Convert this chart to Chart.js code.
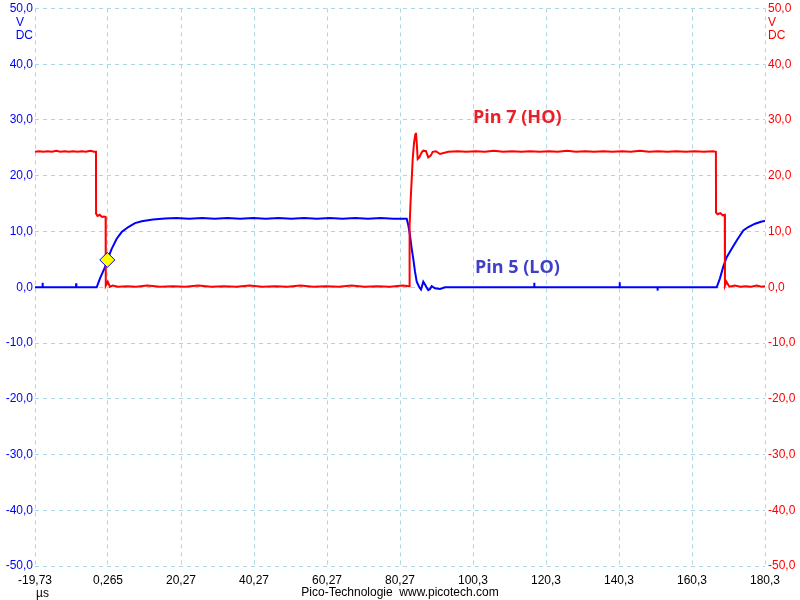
<!DOCTYPE html>
<html>
<head>
<meta charset="utf-8">
<script src="https://cdn.jsdelivr.net/npm/chart.js@4"></script>
<style>
  body { margin: 0; background: #fff; }
  canvas { display: block; }
</style>
</head>
<body>
<canvas id="scope" width="800" height="600"></canvas>
<script>
// Zeitachse in µs, Spannung in V
const xTickValues = [-19.73, 0.265, 20.27, 40.27, 60.27, 80.27, 100.27, 120.27, 140.27, 160.27, 180.27]
const xTickLabels = ["-19,73", "0,265", "20,27", "40,27", "60,27", "80,27", "100,3", "120,3", "140,3", "160,3", "180,3"]

// Pin 7 (HO), rot
const redTime = [
  -19.73, -18.6, -17.4, -16.3, -15.1, -13.9, -12.8, -11.6, -10.4, -9.3, -8.1, -6.9, -5.8, -4.6, -3.5, -3.02,
  -3.0, -2.6, -2.0, -1.4, -0.8, -0.38,
  -0.34, 0.2, 0.8, 1.6, 3.0, 5.5, 8.0, 11.0, 14.5, 18.0, 21.5, 25.0, 28.5, 32.0, 35.5, 39.0, 42.5, 46.0, 49.5, 53.0, 56.5, 60.0, 63.5, 67.0, 70.5, 74.0, 77.5, 81.0, 82.8,
  82.9, 83.2, 83.48, 83.75, 84.11, 84.46, 84.65, 84.85, 85.12, 85.56, 86.22, 86.65, 87.39, 88.02, 88.68, 89.23, 90.13, 91.23,
  93.5, 96.0, 98.5, 101.0, 103.5, 106.0, 108.5, 111.0, 113.5, 116.0, 118.5, 121.0, 123.5, 126.0, 128.5, 131.0, 133.5, 136.0, 138.5, 141.0, 143.5, 146.0, 148.5, 151.0, 153.5, 156.0, 158.5, 161.0, 163.5, 166.0, 166.82,
  166.85, 167.3, 168.0, 168.7, 169.25,
  169.3, 169.7, 170.5, 172.0, 173.5, 175.0, 176.5, 178.0, 179.3, 180.27
]
const redVolt = [
  24.3, 24.4, 24.3, 24.4, 24.3, 24.5, 24.3, 24.4, 24.3, 24.4, 24.3, 24.4, 24.3, 24.5, 24.3, 24.3,
  13.2, 12.8, 13.0, 12.6, 12.7, 12.6,
  0.3, 1.0, 0.1, 0.3, 0.1, 0.2, 0.1, 0.3, 0.1, 0.2, 0.1, 0.3, 0.1, 0.2, 0.1, 0.3, 0.1, 0.2, 0.1, 0.3, 0.1, 0.2, 0.1, 0.3, 0.1, 0.2, 0.1, 0.3, 0.2,
  11.1, 15.8, 19.4, 23.0, 25.9, 27.4, 27.7, 25.9, 23.0, 23.3, 24.2, 24.5, 24.4, 23.3, 23.6, 24.3, 24.4, 23.9,
  24.3, 24.4, 24.3, 24.4, 24.3, 24.5, 24.3, 24.4, 24.3, 24.4, 24.3, 24.4, 24.3, 24.5, 24.3, 24.4, 24.3, 24.4, 24.3, 24.4, 24.3, 24.5, 24.3, 24.4, 24.3, 24.4, 24.3, 24.4, 24.3, 24.4, 24.3,
  13.4, 13.1, 13.3, 12.9, 13.0,
  0.3, 1.0, 0.1, 0.3, 0.1, 0.2, 0.1, 0.3, 0.1, 0.2
]

// Pin 5 (LO), blau
const blueTime = [
  -19.73, -17.7, -17.65, -17.6, -10.0, -8.5, -8.45, -8.4, -5.0, -2.83,
  -1.92, -0.55, 0.08, 1.28, 2.65, 4.02, 5.83, 7.67, 9.5, 12.6, 15.9,
  19.0, 22.5, 26.0, 29.5, 33.0, 36.5, 40.0, 43.5, 47.0, 50.5, 54.0, 57.5, 61.0, 64.5, 68.0, 71.5, 75.0, 78.5, 82.11,
  82.55, 83.01, 83.48, 83.91, 84.38, 84.85, 85.56, 86.02, 86.65, 87.12, 87.53, 88.02, 88.49, 88.95, 89.86, 91.23, 92.6,
  100.0, 110.0, 117.0, 117.05, 117.1, 125.0, 140.4, 140.45, 140.5, 150.8, 150.85, 150.9, 160.0, 167.03,
  167.93, 168.84, 169.78, 171.15, 172.52, 174.33, 175.7, 177.54, 179.37, 180.27
]
const blueVolt = [
  0, 0, 0.8, 0, 0, 0, 0.7, 0, 0, 0,
  1.6, 3.6, 4.9, 6.9, 8.7, 9.9, 10.8, 11.5, 11.85, 12.15, 12.35,
  12.4, 12.3, 12.4, 12.3, 12.4, 12.3, 12.4, 12.3, 12.4, 12.3, 12.4, 12.3, 12.4, 12.3, 12.4, 12.3, 12.4, 12.3, 12.3,
  11.1, 9.3, 6.9, 5.1, 2.8, 1.0, 0.0, -0.4, 1.0, 0.5, 0.0, -0.5, -0.3, 0.2, -0.2, -0.3, 0,
  0, 0, 0, 0.8, 0, 0, 0, 0.9, 0, 0, -0.6, 0, 0, 0,
  1.6, 3.7, 5.4, 6.9, 8.4, 10.2, 10.8, 11.4, 11.8, 11.9
]

// Triggerpunkt
const triggerTime = [0.08]
const triggerVolt = [4.9]

const RED = "#ff0000"
const BLUE = "#0000ff"
const GRID = "#a9d7e3"
const FONT = "'Liberation Sans', Arial, sans-serif"

const points = (xs, ys) => xs.map((x, i) => ({ x, y: ys[i] }))
const fmtVolt = (v) => v.toFixed(1).replace(".", ",")

// feste Achsenbreiten wie im Pico-Screenshot
const fixWidth = (w) => (scale) => { scale.width = w }

// kleine lineHeight, damit die 50,0-Beschriftung den Plot nicht nach unten schiebt
const voltFont = { family: FONT, size: 12, lineHeight: 0.8 }

const scopeText = {
  id: "scopeText",
  afterDraw(chart) {
    const { ctx, scales } = chart
    const top = scales.y.getPixelForValue(50)

    ctx.save()
    ctx.font = `12px ${FONT}`
    ctx.textBaseline = "middle"

    ctx.fillStyle = BLUE
    ctx.textAlign = "center"
    ctx.fillText("V", 20, top + 14)
    ctx.textAlign = "right"
    ctx.fillText("DC", 33, top + 27)

    ctx.fillStyle = RED
    ctx.textAlign = "left"
    ctx.fillText("V", 768, top + 14)
    ctx.fillText("DC", 768, top + 27)

    ctx.fillStyle = "#000"
    ctx.fillText("µs", 36, 594)
    ctx.textAlign = "center"
    ctx.fillText("Pico-Technologie  www.picotech.com", 400, 593)

    ctx.font = `bold 18px 'Open Sans', ${FONT}`
    ctx.textAlign = "left"
    ctx.fillStyle = "#e8202a"
    ctx.fillText("Pin 7 (HO)", scales.x.getPixelForValue(100.27), scales.y.getPixelForValue(30.3))
    ctx.fillStyle = "#3f3fc8"
    ctx.fillText("Pin 5 (LO)", scales.x.getPixelForValue(100.8), scales.y.getPixelForValue(3.5))
    ctx.restore()
  }
}

new Chart(document.getElementById("scope"), {
  type: "line",
  data: {
    datasets: [
      {
        label: "Trigger",
        data: points(triggerTime, triggerVolt),
        showLine: false,
        pointStyle: "rectRot",
        pointRadius: 7.5,
        backgroundColor: "#ffff00",
        borderColor: BLUE,
        borderWidth: 1,
        order: 0
      },
      {
        label: "Pin 7 (HO)",
        data: points(redTime, redVolt),
        borderColor: RED,
        borderWidth: 2,
        pointRadius: 0,
        tension: 0,
        order: 1
      },
      {
        label: "Pin 5 (LO)",
        data: points(blueTime, blueVolt),
        borderColor: BLUE,
        borderWidth: 2,
        pointRadius: 0,
        tension: 0,
        order: 2
      }
    ]
  },
  options: {
    responsive: false,
    animation: false,
    devicePixelRatio: 1,
    layout: { padding: { top: 5, left: 0, right: 0, bottom: 0 } },
    plugins: { legend: { display: false }, tooltip: { enabled: false } },
    scales: {
      x: {
        type: "linear",
        min: xTickValues[0],
        max: xTickValues[xTickValues.length - 1],
        afterBuildTicks: (scale) => { scale.ticks = xTickValues.map((value) => ({ value })) },
        afterFit: (scale) => { scale.height = 34 },
        border: { display: false, dash: [4, 4] },
        grid: { color: GRID, drawTicks: false, lineWidth: 1 },
        ticks: {
          color: "#000",
          padding: 7,
          maxRotation: 0,
          autoSkip: false,
          font: { family: FONT, size: 12 },
          callback: (value, index) => xTickLabels[index]
        }
      },
      y: {
        position: "left",
        min: -50,
        max: 50,
        afterFit: fixWidth(35),
        border: { display: false, dash: [4, 4] },
        grid: { color: GRID, drawTicks: false, lineWidth: 1 },
        ticks: { stepSize: 10, color: BLUE, padding: 2, font: voltFont, callback: fmtVolt }
      },
      y2: {
        position: "right",
        min: -50,
        max: 50,
        afterFit: fixWidth(35),
        border: { display: false },
        grid: { display: false, drawTicks: false },
        ticks: { stepSize: 10, color: RED, padding: 3, font: voltFont, callback: fmtVolt }
      }
    }
  },
  plugins: [scopeText]
})
</script>
</body>
</html>
